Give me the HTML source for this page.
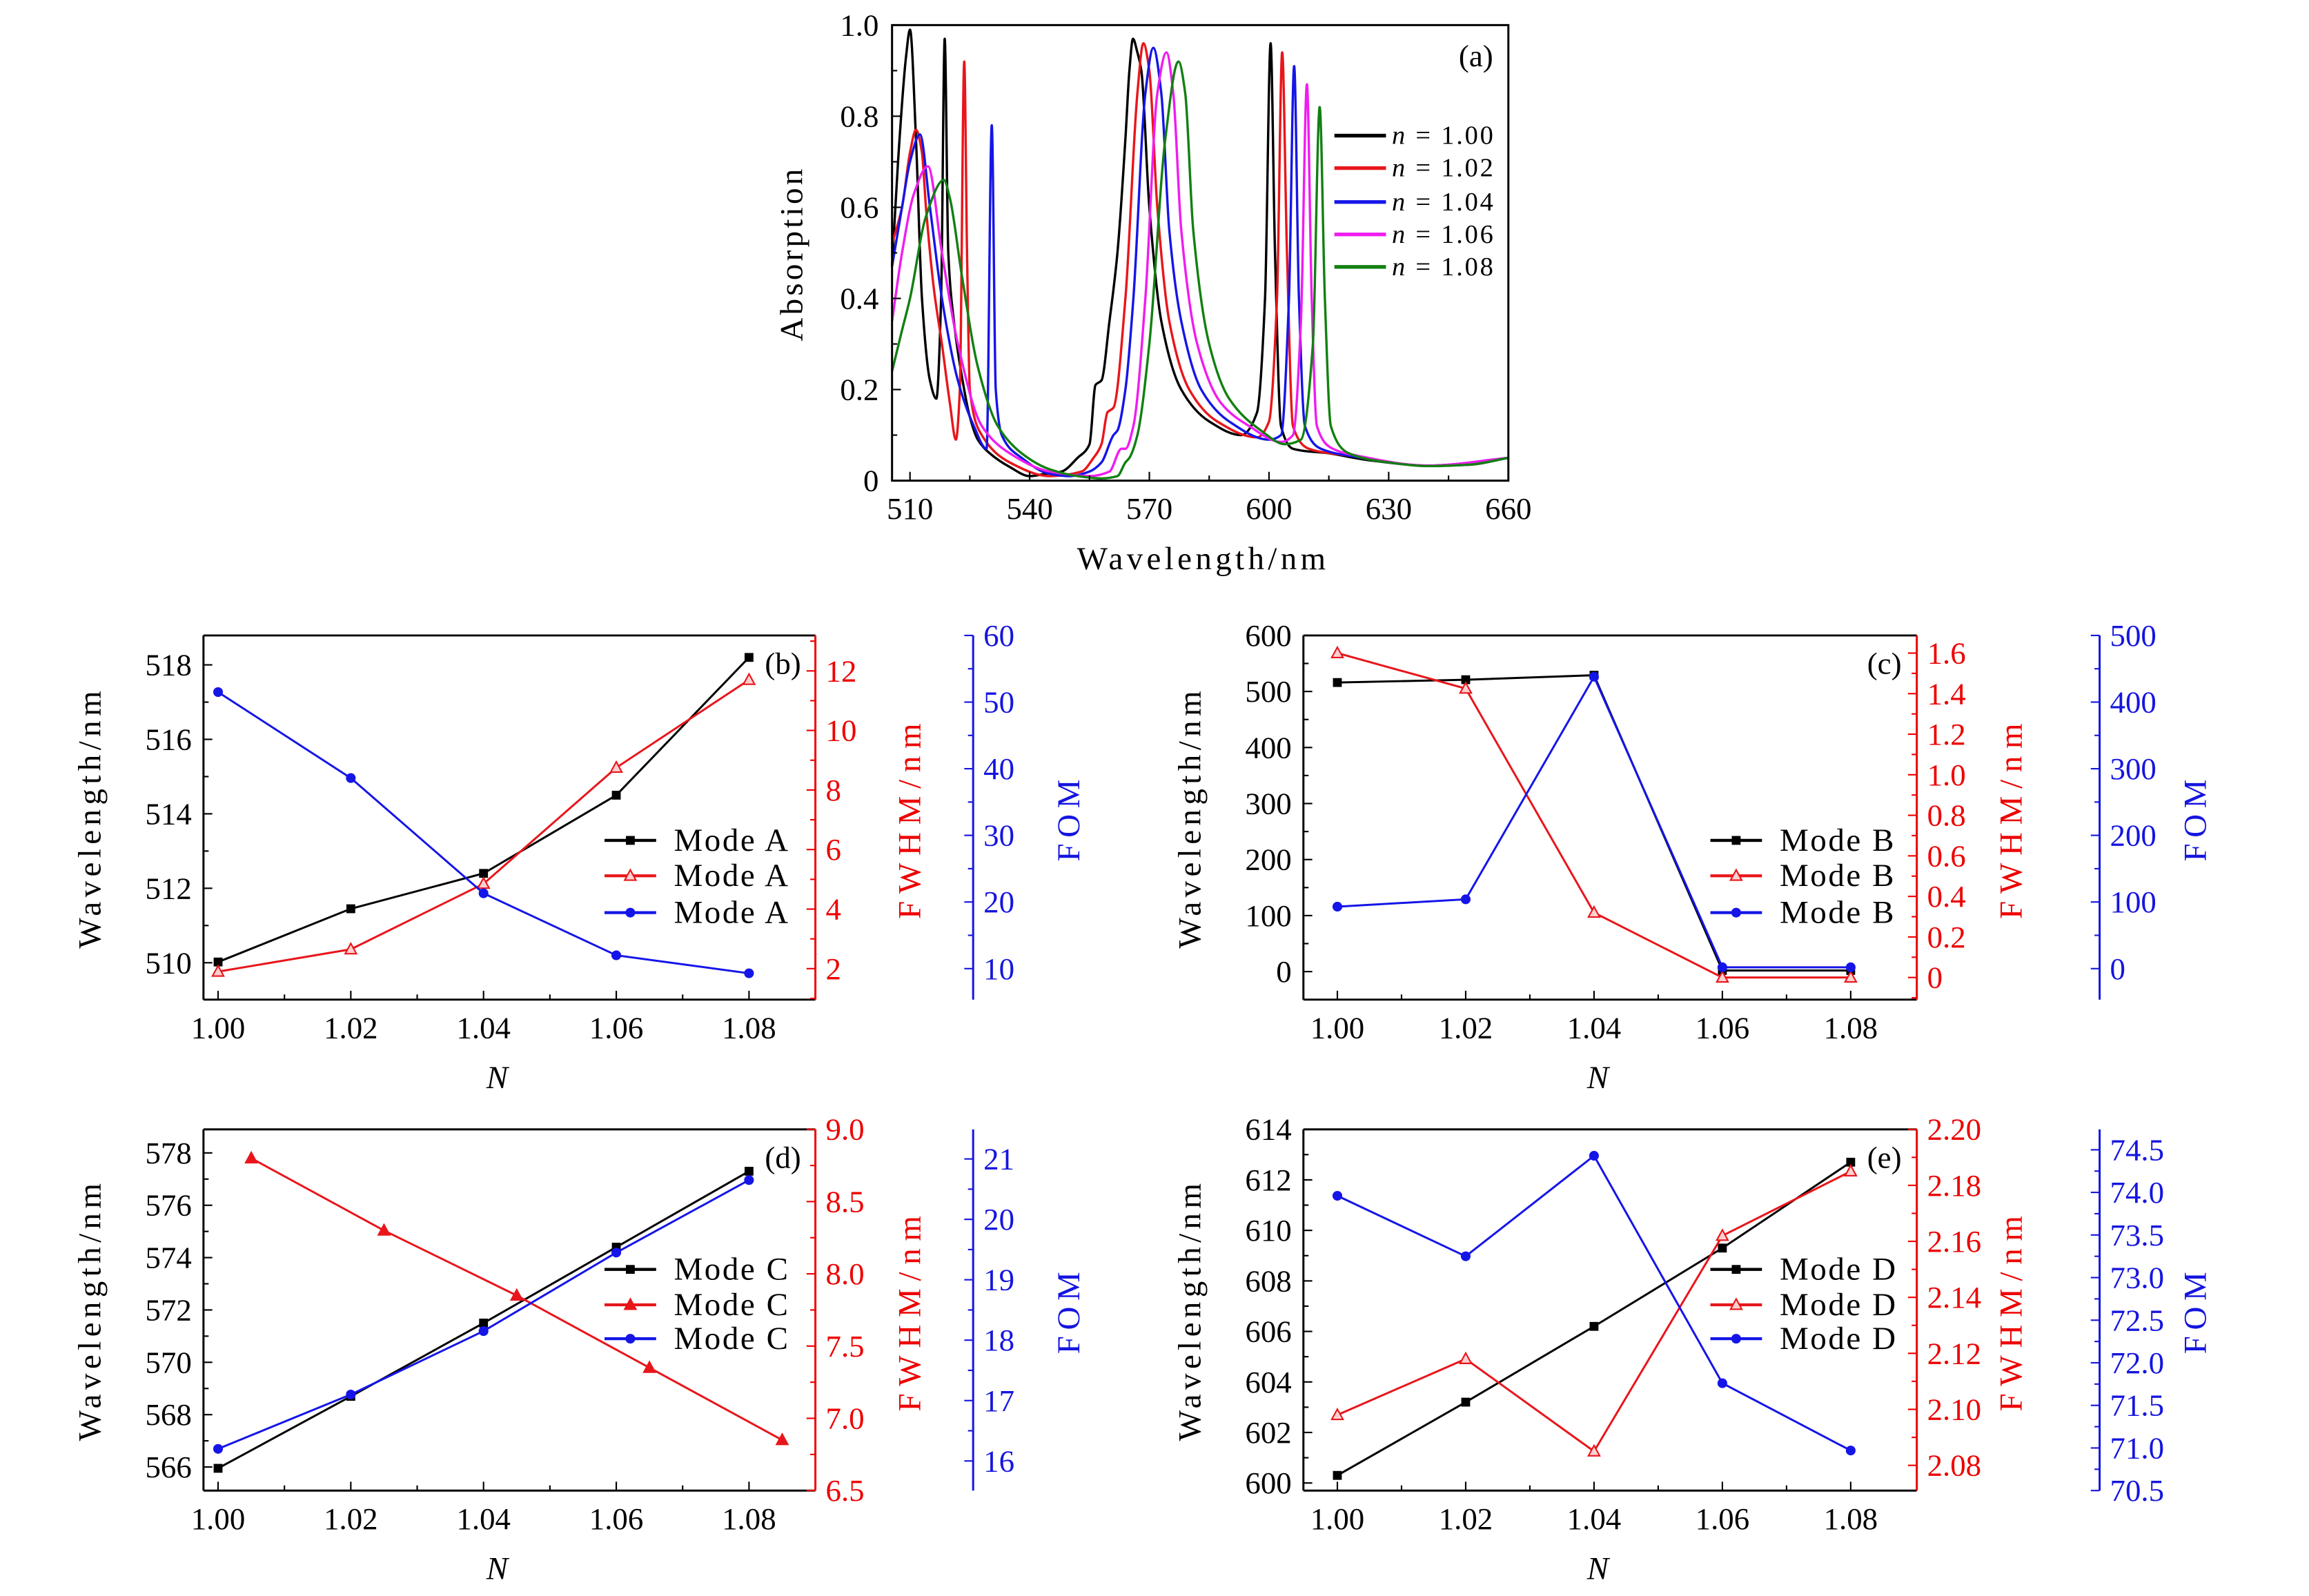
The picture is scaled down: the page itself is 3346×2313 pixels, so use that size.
<!DOCTYPE html>
<html><head><meta charset="utf-8"><style>
html,body{margin:0;padding:0;background:#fff;}
svg{display:block;font-family:"Liberation Serif",serif;}
</style></head><body>
<svg id="fig" width="3346" height="2313" viewBox="0 0 1566 1082.5" xmlns="http://www.w3.org/2000/svg"></svg>
<script>
// ---------- Panel (a) data ----------
const aLabels=["n = 1.00","n = 1.02","n = 1.04","n = 1.06","n = 1.08"];
const aColors=["#000000","#e8161b","#1515e8","#f01cf0","#128012"];
const aX0=[505.5,507,509,510,511.5,513,515,516.6,517.8,518.7,519.6,521,522.6,525,527,530,535,540,544,548,552,555,556.5,558,560,562,564,565,565.9,567,568,570,573,578,585,593,597,599,600.4,601.5,603,606,615,625,640,650,660];
const aY0=[0.47,0.7,0.93,0.99,0.75,0.4,0.22,0.18,0.4,0.97,0.5,0.35,0.25,0.14,0.09,0.06,0.03,0.01,0.015,0.02,0.05,0.08,0.21,0.22,0.35,0.5,0.75,0.9,0.97,0.94,0.9,0.6,0.35,0.2,0.13,0.1,0.15,0.4,0.96,0.5,0.12,0.07,0.06,0.045,0.033,0.035,0.05];
const aX1=[505.5,508,510,511.5,513,514,516,518,520,521.5,522.5,523.6,524.3,525,528,535,545,553,556,558,559.5,561,564,567,568.5,570,572,575,580,587,597,600,602,603.3,604.5,606,610,620,640,660];
const aY1=[0.52,0.6,0.72,0.77,0.72,0.6,0.42,0.3,0.17,0.09,0.2,0.92,0.5,0.2,0.1,0.04,0.01,0.02,0.05,0.08,0.15,0.16,0.4,0.85,0.96,0.9,0.6,0.35,0.2,0.13,0.095,0.13,0.4,0.94,0.5,0.12,0.07,0.055,0.033,0.05];
const aX2=[505.5,508,510,512.5,515,518,522,526,529.2,530.5,531.5,533,538,545,550,555,558,561,562,564,566,569,571,573,575,578,583,590,600,603,605,606.3,607.5,609,613,620,640,660];
const aY2=[0.47,0.6,0.7,0.76,0.6,0.4,0.22,0.12,0.07,0.78,0.2,0.1,0.05,0.015,0.01,0.02,0.04,0.1,0.11,0.2,0.4,0.85,0.95,0.85,0.55,0.35,0.2,0.13,0.09,0.1,0.4,0.91,0.4,0.12,0.07,0.055,0.033,0.05];
const aX3=[505.5,508,511,514.5,518,522,528,535,545,555,560,563,564,566,569,572,574.3,576,578,582,588,595,603,606,608,609.5,610.7,612,616,622,640,660];
const aY3=[0.35,0.5,0.63,0.69,0.5,0.3,0.12,0.06,0.02,0.01,0.02,0.07,0.07,0.12,0.4,0.85,0.94,0.85,0.55,0.3,0.17,0.12,0.085,0.1,0.35,0.87,0.4,0.12,0.07,0.055,0.033,0.05];
const aX4=[505.5,508,510,514,518.5,520,523,527,532,538,545,552,558,562,564,565,567,570,574,577.3,579,581,585,590,598,604,608,611,612.7,614,615.5,620,630,640,650,660];
const aY4=[0.24,0.33,0.4,0.58,0.66,0.62,0.45,0.25,0.12,0.06,0.025,0.01,0.005,0.01,0.04,0.05,0.1,0.3,0.75,0.92,0.85,0.55,0.3,0.18,0.11,0.08,0.09,0.3,0.82,0.4,0.12,0.06,0.04,0.032,0.035,0.05];
const aXTicks=[510,540,570,600,630,660];
const aYTicks=[0,0.2,0.4,0.6,0.8,1.0];
const aYTickLabels=["0","0.2","0.4","0.6","0.8","1.0"];

// ---------- Panels (b)-(e) data ----------
const nCats=[1.00,1.02,1.04,1.06,1.08];
const nTickLabels=["1.00","1.02","1.04","1.06","1.08"];
const bWave=[510.02,511.45,512.4,514.5,518.2];
const bFwhm=[1.9,2.65,4.85,8.75,11.7];
const bFom=[51.5,38.6,21.3,12.0,9.3];
const cWave=[516,521,529,2,2];
const cFwhm=[1.6,1.425,0.32,0,0];
const cFom=[93,104,438,2,2];
const dWave=[565.95,568.7,571.5,574.4,577.3];
const dFwhmN=[1.005,1.025,1.045,1.065,1.085];
const dFwhm=[8.8,8.3,7.85,7.35,6.85];
const dFom=[16.2,17.1,18.15,19.45,20.65];
const eWave=[600.3,603.2,606.2,609.3,612.7];
const eFwhm=[2.098,2.118,2.085,2.162,2.185];
const eFom=[73.96,73.25,74.43,71.76,70.97];
const bWaveTicks=[510,512,514,516,518];
const bFwhmTicks=[2,4,6,8,10,12];
const bFomTicks=[10,20,30,40,50,60];
const cWaveTicks=[0,100,200,300,400,500,600];
const cFwhmTicks=[0,0.2,0.4,0.6,0.8,1.0,1.2,1.4,1.6];
const cFwhmLabels=["0","0.2","0.4","0.6","0.8","1.0","1.2","1.4","1.6"];
const cFomTicks=[0,100,200,300,400,500];
const dWaveTicks=[566,568,570,572,574,576,578];
const dFwhmTicks=[6.5,7.0,7.5,8.0,8.5,9.0];
const dFwhmLabels=["6.5","7.0","7.5","8.0","8.5","9.0"];
const dFomTicks=[16,17,18,19,20,21];
const eWaveTicks=[600,602,604,606,608,610,612,614];
const eFwhmTicks=[2.08,2.10,2.12,2.14,2.16,2.18,2.20];
const eFwhmLabels=["2.08","2.10","2.12","2.14","2.16","2.18","2.20"];
const eFomTicks=[70.5,71.0,71.5,72.0,72.5,73.0,73.5,74.0,74.5];
const eFomLabels=["70.5","71.0","71.5","72.0","72.5","73.0","73.5","74.0","74.5"];

const NS="http://www.w3.org/2000/svg";
const svg=document.getElementById('fig');
const TICKFS=21;
function mk(tag,attrs,parent){const e=document.createElementNS(NS,tag);for(const k in attrs)e.setAttribute(k,attrs[k]);(parent||svg).appendChild(e);return e;}
function lin(d0,d1,r0,r1){return v=>r0+(v-d0)/(d1-d0)*(r1-r0);}
function txt(s,x,y,o,parent){const t=mk('text',Object.assign({x:x,y:y,'font-size':TICKFS,'text-anchor':'middle','dominant-baseline':'central'},o||{}),parent);t.textContent=s;return t;}
function monoPath(px,py){
  const n=px.length,d=[],m=new Array(n);
  for(let i=0;i<n-1;i++)d.push((py[i+1]-py[i])/(px[i+1]-px[i]));
  m[0]=d[0];m[n-1]=d[n-2];
  for(let i=1;i<n-1;i++){
    if(d[i-1]*d[i]<=0){m[i]=0;continue;}
    const w1=2*(px[i+1]-px[i])+(px[i]-px[i-1]),w2=(px[i+1]-px[i])+2*(px[i]-px[i-1]);
    m[i]=(w1+w2)/(w1/d[i-1]+w2/d[i]);}
  let s='M'+px[0].toFixed(2)+' '+py[0].toFixed(2);
  for(let i=0;i<n-1;i++){const h=(px[i+1]-px[i])/3;
    s+='C'+(px[i]+h).toFixed(2)+' '+(py[i]+m[i]*h).toFixed(2)+' '+(px[i+1]-h).toFixed(2)+' '+(py[i+1]-m[i+1]*h).toFixed(2)+' '+px[i+1].toFixed(2)+' '+py[i+1].toFixed(2);}
  return s;
}

// ---------- Panel (a) ----------
(function(){
  const g=mk('g',{});
  
  
  const L=605,R=1023,T=17,B=326;
  const X=lin(505.5,660,L,R), Y=lin(0,1,B,T);
  const xs=[aX0,aX1,aX2,aX3,aX4], ys=[aY0,aY1,aY2,aY3,aY4];
  for(let s=0;s<5;s++){
    const d=monoPath(xs[s].map(X),ys[s].map(Y));
    const p=mk('path',{d:d,fill:'none',stroke:aColors[s],'stroke-width':1.6,'stroke-linejoin':'round'},g);
    
    
  }
  const box=mk('rect',{x:L,y:T,width:R-L,height:B-T,fill:'none',stroke:'#000','stroke-width':1.4},g);
  
  
  for(let v=510;v<=660;v+=15){const x=X(v);mk('line',{x1:x,x2:x,y1:B,y2:B-(v%30===0?6:3.5),stroke:'#000','stroke-width':1},g);}
  aXTicks.forEach(v=>{const t=txt(String(v),X(v),345,{},g);});
  for(let k=0;k<=10;k++){const y=Y(k/10);mk('line',{x1:L,x2:L+(k%2===0?6:3.5),y1:y,y2:y,stroke:'#000','stroke-width':1},g);}
  aYTicks.forEach((v,i)=>{const t=txt(aYTickLabels[i],L-9,Y(v),{'text-anchor':'end'},g);});
  let t=txt('Wavelength/nm',816,379,{'font-size':22,'letter-spacing':'2.5'},g);
  
  
  t=txt('Absorption',0,0,{'font-size':22,'letter-spacing':'2',transform:'translate(537,172) rotate(-90)'},g);
  
  
  t=txt('(a)',1001,38,{'font-size':21},g);
  
  
  const ly=[92,114,137,159,181];
  for(let s=0;s<5;s++){
    const lg=mk('g',{},g);
    
    
    mk('line',{x1:905,x2:940,y1:ly[s],y2:ly[s],stroke:aColors[s],'stroke-width':2.5},lg);
    const tt=mk('text',{x:944,y:ly[s],'font-size':18,'letter-spacing':'1.3','dominant-baseline':'central'},lg);
    tt.innerHTML='<tspan font-style="italic">n</tspan> = '+aLabels[s].slice(4);
  }
})();

// ---------- Panels (b)-(e) ----------
function marker(kind,x,y,color,fill,g){
  if(kind==='sq') return mk('rect',{x:x-3,y:y-3,width:6,height:6,fill:color},g);
  if(kind==='tri') return mk('path',{d:`M${x} ${y-4}L${x+3.8} ${y+3}L${x-3.8} ${y+3}Z`,fill:fill,stroke:color,'stroke-width':1},g);
  return mk('circle',{cx:x,cy:y,r:3.3,fill:color},g);
}
function panel(p){
  const g=mk('g',{});
  
  
  const {L,R,T,B,RA}=p;
  const X=lin(p.xmin,p.xmax,L,R);
  const Yk=lin(p.k[0],p.k[1],B,T), Yr=lin(p.r[0],p.r[1],B,T), Yb=lin(p.b[0],p.b[1],B,T);
  mk('line',{x1:L,x2:R,y1:T,y2:T,stroke:'#000','stroke-width':1.4},g);
  mk('line',{x1:L,x2:L,y1:T,y2:B,stroke:'#000','stroke-width':1.4},g);
  mk('line',{x1:L,x2:R,y1:B,y2:B,stroke:'#000','stroke-width':1.4},g);
  mk('line',{x1:R,x2:R,y1:T,y2:B,stroke:'#e00','stroke-width':1.4},g);
  mk('line',{x1:RA,x2:RA,y1:T,y2:B,stroke:'#1515e0','stroke-width':1.4},g);
  for(let k=0;k<=8;k++){const v=1+k*0.01;const x=X(v);mk('line',{x1:x,x2:x,y1:B,y2:B-(k%2===0?6:3.5),stroke:'#000','stroke-width':1},g);}
  nCats.forEach((v,i)=>{const t=txt(nTickLabels[i],X(v),B+19,{},g);});
  const kstep=p.kt[1]-p.kt[0];
  for(let v=p.kt[0]-kstep;v<=p.k[1]+1e-9;v+=kstep/2){if(v<p.k[0]-1e-9)continue;const y=Yk(v);const maj=p.kt.some(t=>Math.abs(t-v)<1e-6);mk('line',{x1:L,x2:L+(maj?6:3.5),y1:y,y2:y,stroke:'#000','stroke-width':1},g);}
  p.kt.forEach(v=>{const t=txt(String(v),L-8,Yk(v),{'text-anchor':'end'},g);});
  const rstep=p.rt[1]-p.rt[0];
  for(let v=p.rt[0]-rstep;v<=p.r[1]+1e-9;v+=rstep/2){if(v<p.r[0]-1e-9)continue;const y=Yr(v);const maj=p.rt.some(t=>Math.abs(t-v)<1e-6);mk('line',{x1:R,x2:R-(maj?6:3.5),y1:y,y2:y,stroke:'#e00','stroke-width':1},g);}
  p.rt.forEach((v,i)=>{const t=txt(p.rl?p.rl[i]:String(v),R+7,Yr(v),{'text-anchor':'start',fill:'#e00'},g);});
  const bstep=p.bt[1]-p.bt[0];
  for(let v=p.bt[0]-bstep;v<=p.b[1]+1e-9;v+=bstep/2){if(v<p.b[0]-1e-9)continue;const y=Yb(v);const maj=p.bt.some(t=>Math.abs(t-v)<1e-6);mk('line',{x1:RA,x2:RA-(maj?6:3.5),y1:y,y2:y,stroke:'#1515e0','stroke-width':1},g);}
  p.bt.forEach((v,i)=>{const t=txt(p.bl?p.bl[i]:String(v),RA+7,Yb(v),{'text-anchor':'start',fill:'#1515e0'},g);});
  const cy=(T+B)/2;
  let t=txt('Wavelength/nm',0,0,{'font-size':22,'letter-spacing':'3',transform:`translate(${L-77},${cy}) rotate(-90)`},g);
  
  
  t=txt('FWHM/nm',0,0,{'font-size':22,'letter-spacing':'5',fill:'#e00',transform:`translate(${R+64},${cy}) rotate(-90)`},g);
  
  
  t=txt('FOM',0,0,{'font-size':22,'letter-spacing':'4',fill:'#1515e0',transform:`translate(${RA+65},${cy}) rotate(-90)`},g);
  
  
  t=txt('N',(L+R)/2-(R-L)*0.02,B+53,{'font-size':22,'font-style':'italic'},g);
  
  
  t=txt('('+p.id+')',R-22,T+19,{'font-size':21},g);
  
  
  const series=[
    {xs:nCats,ys:p.kv,Y:Yk,c:'#000',m:'sq',f:'#000',n:'wavelength'},
    {xs:p.rx||nCats,ys:p.rv,Y:Yr,c:'#e8161b',m:'tri',f:p.rfill,n:'fwhm'},
    {xs:nCats,ys:p.bv,Y:Yb,c:'#1515e8',m:p.bm||'ci',f:'#1515e8',n:'fom'}];
  series.forEach((s,si)=>{
    const sg=mk('g',{},g);
    
    
    let d='';
    s.xs.forEach((x,i)=>{d+=(i?'L':'M')+X(x).toFixed(2)+' '+s.Y(s.ys[i]).toFixed(2);});
    mk('path',{d:d,fill:'none',stroke:s.c,'stroke-width':1.4},sg);
    s.xs.forEach((x,i)=>{
      const m=marker(s.m,X(x),s.Y(s.ys[i]),s.c,s.f,sg);
      
      
    });
    const ly=p.ly[si], lx=p.lx;
    const lg=mk('g',{},g);
    
    
    mk('line',{x1:lx,x2:lx+35,y1:ly,y2:ly,stroke:s.c,'stroke-width':2},lg);
    marker(s.m,lx+17.5,ly,s.c,s.f,lg);
    txt(p.mode,lx+47,ly,{'text-anchor':'start','font-size':22,'letter-spacing':'1.2'},lg);
  });
}
panel({id:'b',L:138,R:553,T:431,B:678,RA:660,xmin:0.9978,xmax:1.09,
  k:[509.01,518.79],r:[0.96,13.19],b:[5.35,60],kt:bWaveTicks,rt:bFwhmTicks,bt:bFomTicks,
  kv:bWave,rv:bFwhm,bv:bFom,rfill:'#ffd0d0',lx:410,ly:[570,594,619],mode:'Mode A'});
panel({id:'c',L:884,R:1300,T:431,B:678,RA:1424,xmin:0.99471,xmax:1.0903,
  k:[-50,600],r:[-0.109,1.687],b:[-46.5,500],kt:cWaveTicks,rt:cFwhmTicks,rl:cFwhmLabels,bt:cFomTicks,
  kv:cWave,rv:cFwhm,bv:cFom,rfill:'#ffd0d0',lx:1160,ly:[570,594,619],mode:'Mode B'});
panel({id:'d',L:138,R:553,T:766,B:1011,RA:660,xmin:0.9978,xmax:1.09,
  k:[565.1,578.9],r:[6.5,9.0],b:[15.51,21.49],kt:dWaveTicks,rt:dFwhmTicks,rl:dFwhmLabels,bt:dFomTicks,
  kv:dWave,rv:dFwhm,rx:dFwhmN,bv:dFom,rfill:'#e8161b',lx:410,ly:[861,885,908],mode:'Mode C'});
panel({id:'e',L:884,R:1300,T:766,B:1011,RA:1424,xmin:0.99471,xmax:1.0903,
  k:[599.7,614],r:[2.071,2.20],b:[70.5,74.74],kt:eWaveTicks,rt:eFwhmTicks,rl:eFwhmLabels,bt:eFomTicks,bl:eFomLabels,
  kv:eWave,rv:eFwhm,bv:eFom,rfill:'#ffd0d0',lx:1160,ly:[861,885,908],mode:'Mode D'});
</script>
</body></html>
